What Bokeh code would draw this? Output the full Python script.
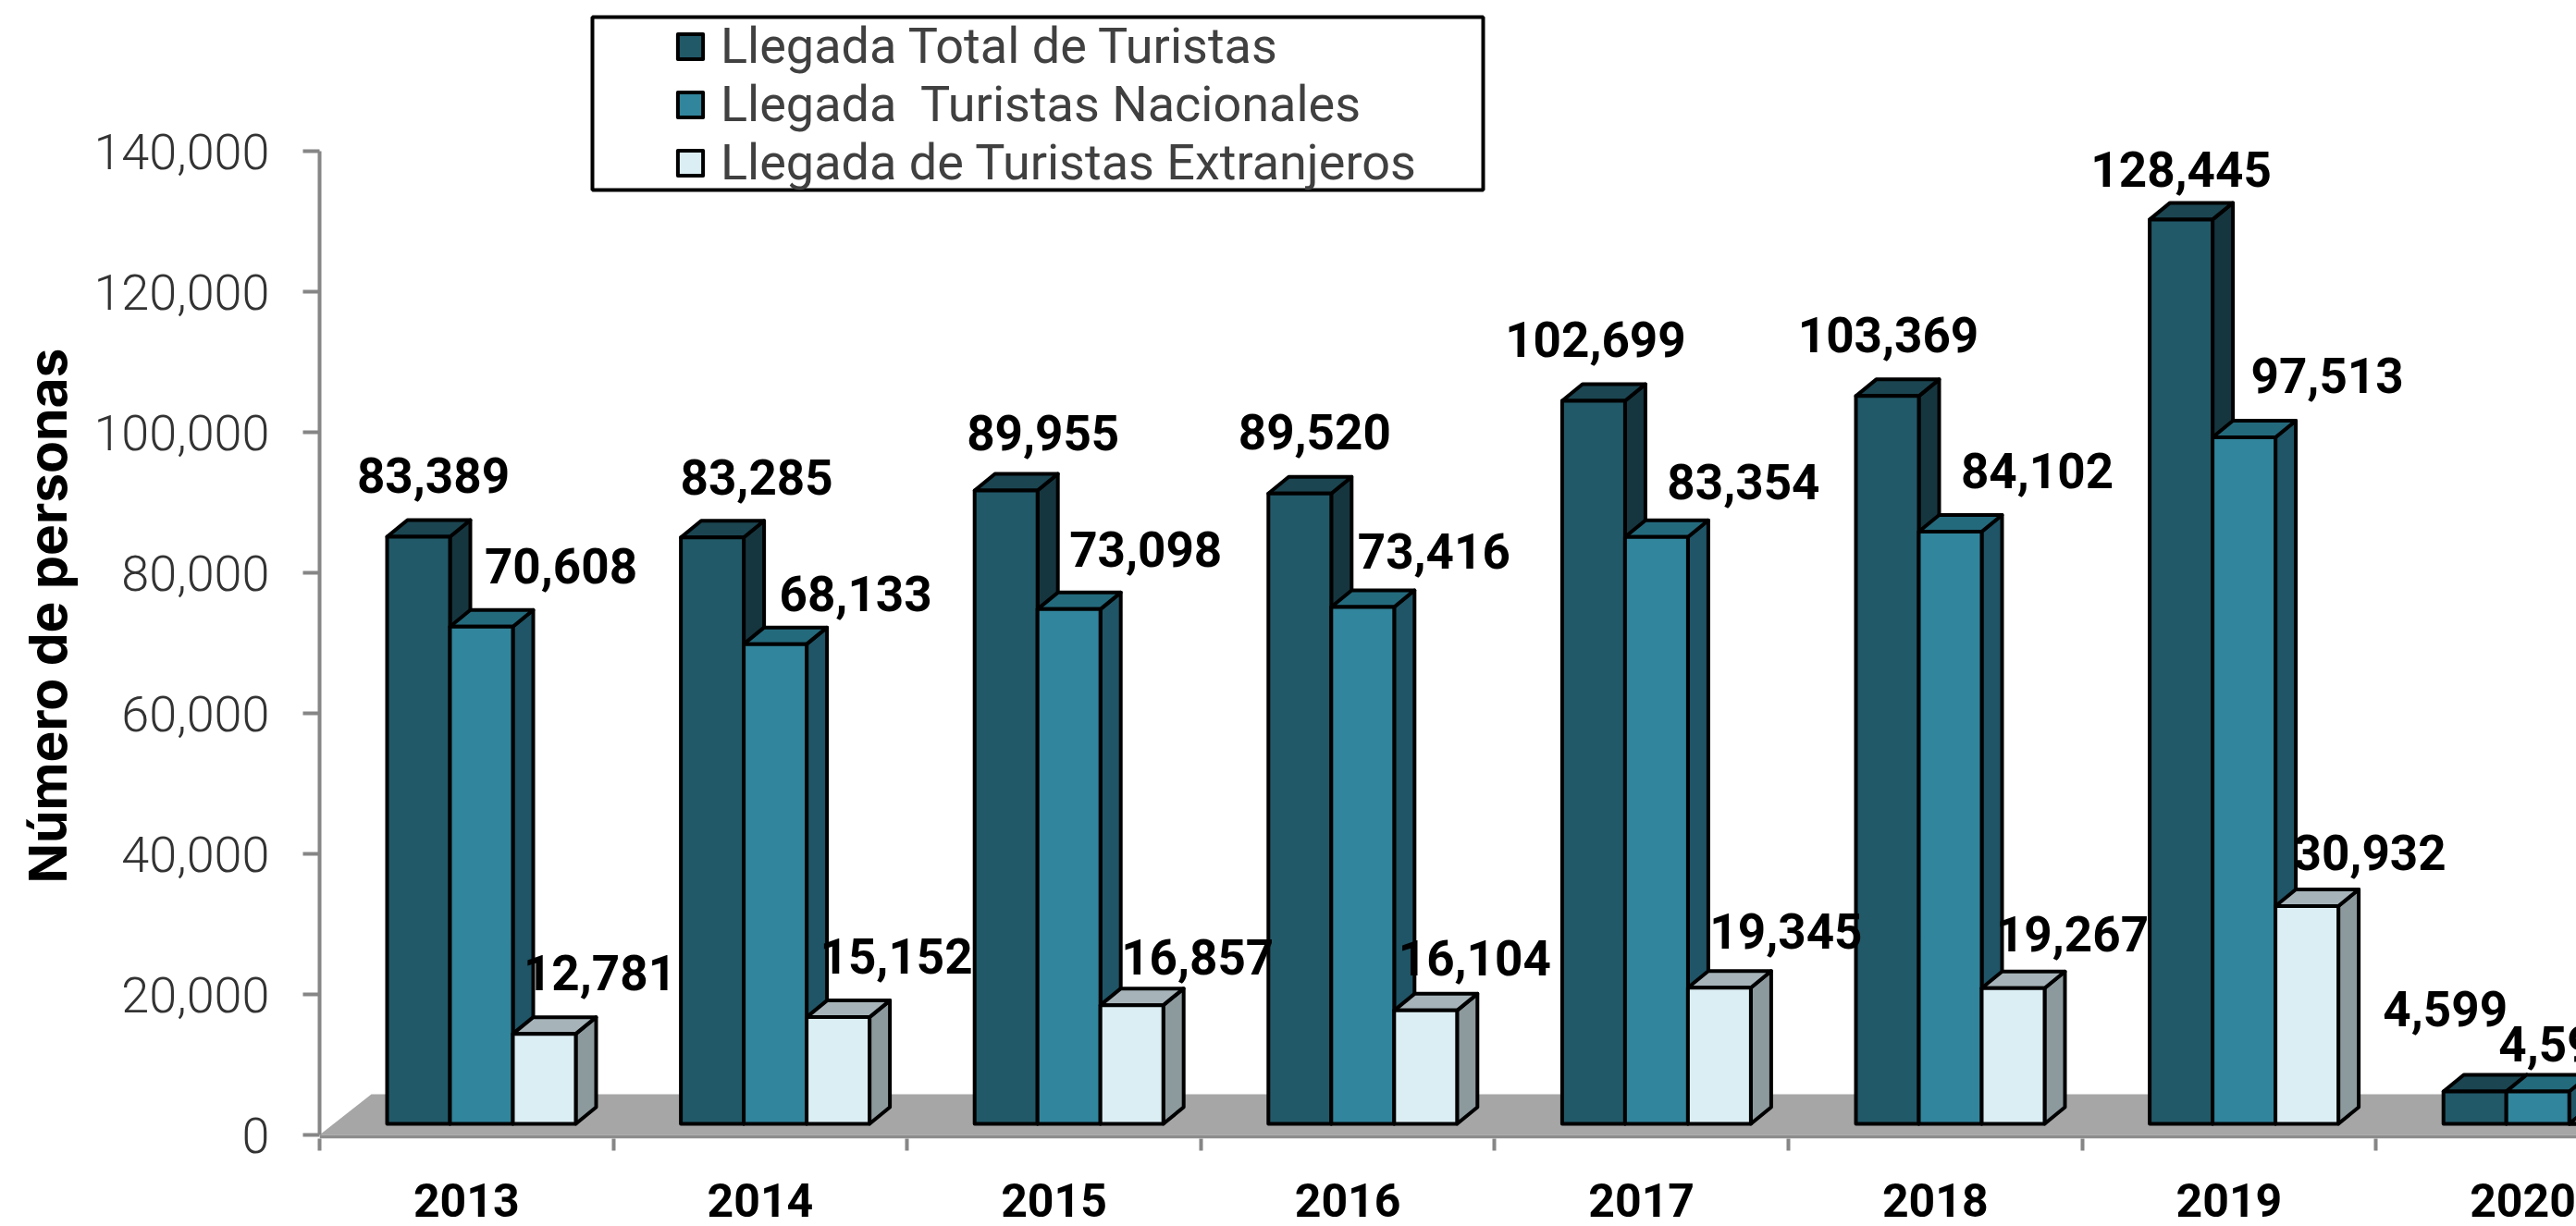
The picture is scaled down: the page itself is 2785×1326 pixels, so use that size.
from bokeh.plotting import figure
from bokeh.embed import file_html
from bokeh.resources import INLINE
from bokeh.models import (ColumnDataSource, Range1d, LinearAxis, FixedTicker, Legend, LegendItem,
                          Title, BoxAnnotation, CustomJSTickFormatter)
from bokeh.core.properties import value

years = ["2013", "2014", "2015", "2016", "2017", "2018", "2019", "2020"]
total = [83389, 83285, 89955, 89520, 102699, 103369, 128445, 4599]
nacionales = [70608, 68133, 73098, 73416, 83354, 84102, 97513, 4599]
extranjeros = [12781, 15152, 16857, 16104, 19345, 19267, 30932, 0]
series_names = ["Llegada Total de Turistas", "Llegada  Turistas Nacionales", "Llegada de Turistas Extranjeros"]
y_ticks = [0, 20000, 40000, 60000, 80000, 100000, 120000, 140000]

# label offsets (px) relative to the top of each bar
off_total = ([16, 48, 40, 16, 2, 1, 0, -32], [-66, -65, -62, -67, -66, -66, -54, -89])
off_nac = ([86, 87, 83, 77, 94, 94, 90, 25], [-66, -55, -65, -60, -60, -66, -67, -51])
off_ext = ([60, 63, 71, 53, 72, 64, 68], [-66, -66, -52, -57, -61, -59, -58])

fronts = ["#215968", "#31859C", "#DBEEF4"]
tops = ["#1B4551", "#246A7D", "#A6B4B9"]
sides = ["#16363F", "#1F5566", "#8C999D"]

W, H = 2785, 1326
CAT = 317.6            # px per category
K = 0.007615           # px per person (bars)
K_AX = 0.0076          # px per person (axis)
LEFT = 345             # frame left in canvas px
BOTTOM = 1231          # frame bottom in canvas px
BASE = 1215            # bars' zero in canvas px
AXIS0 = 1227           # axis zero in canvas px

xr = Range1d(0, (W - LEFT) / CAT)
yr = Range1d(-(BOTTOM - BASE) / K, BASE / K)
p = figure(width=W, height=H, x_range=xr, y_range=yr, output_backend="svg", toolbar_location=None,
           x_axis_location=None, y_axis_location=None, min_border_left=LEFT, min_border_right=0,
           min_border_top=0, min_border_bottom=H - BOTTOM, outline_line_color=None,
           background_fill_color="white", border_fill_color="white")
p.grid.visible = False
p.extra_y_ranges["axis"] = Range1d(-(BOTTOM - AXIS0) / K_AX, AXIS0 / K_AX)

# floor
fdx, fdy = 56 / CAT, 44 / K_AX
p.patch([0, fdx, xr.end, xr.end], [0, fdy, fdy, 0], y_range_name="axis", fill_color="#A6A6A6", line_color=None)
p.quad(left=[0], right=[xr.end], bottom=[-4 / K_AX], top=[0], y_range_name="axis", fill_color="#8C8C8C", line_color=None)

BW = 68 / CAT
START = 73 / CAT
DX, DY = 22 / CAT, 18 / K
LW = 4
renderers = []
for s, vals in enumerate([total, nacionales, extranjeros]):
    xl = [i + START + s * BW for i in range(len(vals))]
    xr_ = [x + BW for x in xl]
    p.patches([[b, b + DX, b + DX, b] for b in xr_],
              [[0, DY, v + DY, v] for v in vals],
              fill_color=sides[s], line_color="black", line_width=LW, line_join="round")
    p.patches([[a, a + DX, b + DX, b] for a, b in zip(xl, xr_)],
              [[v, v + DY, v + DY, v] for v in vals],
              fill_color=tops[s], line_color="black", line_width=LW, line_join="round")
    src = ColumnDataSource(dict(x=[x + BW / 2 for x in xl], top=vals))
    r = p.vbar(x="x", top="top", bottom=0, width=BW, source=src, fill_color=fronts[s],
               line_color="black", line_width=LW, line_join="round")
    renderers.append(r)

# data labels
for s, (vals, off) in enumerate(zip([total, nacionales, extranjeros], [off_total, off_nac, off_ext])):
    n = len(off[0])
    src = ColumnDataSource(dict(x=[i + START + s * BW + BW / 2 for i in range(n)], y=vals[:n],
                                t=[f"{v:,}" for v in vals[:n]], dx=off[0], dy=off[1]))
    p.text(x="x", y="y", text="t", x_offset="dx", y_offset="dy", source=src, text_align="center",
           text_baseline="middle", text_font=value("Roboto"), text_font_style="bold",
           text_font_size="53px", text_color="black")

# axes
yax = LinearAxis(y_range_name="axis", ticker=FixedTicker(ticks=y_ticks), bounds=(0, 140000))
yax.formatter = CustomJSTickFormatter(code="return tick.toLocaleString('en-US')")
yax.axis_line_color = "#868686"; yax.axis_line_width = 4
yax.major_tick_line_color = "#868686"; yax.major_tick_line_width = 4
yax.major_tick_out = 18; yax.major_tick_in = 0
yax.minor_tick_line_color = None
yax.major_label_text_font = "Roboto Light"; yax.major_label_text_font_size = "54px"
yax.major_label_text_color = "#333333"; yax.major_label_standoff = 36
p.add_layout(yax, "left")

centers = [i + 0.5 for i in range(len(years))]
xax = LinearAxis(ticker=FixedTicker(ticks=centers, minor_ticks=list(range(len(years)))))
xax.major_label_overrides = {c: y for c, y in zip(centers, years)}
xax.axis_line_color = None
xax.major_tick_line_color = None
xax.major_tick_out = 0; xax.major_tick_in = 0
xax.minor_tick_line_color = "#868686"; xax.minor_tick_line_width = 4
xax.minor_tick_out = 13; xax.minor_tick_in = 0
xax.major_label_text_font = "Roboto"; xax.major_label_text_font_style = "bold"
xax.major_label_text_font_size = "50px"; xax.major_label_text_color = "black"
xax.major_label_standoff = 35
p.add_layout(xax, "below")

# axis title
p.add_layout(Title(text="Número de personas", align="left", offset=276, standoff=25,
                   text_font="Inter", text_font_style="bold", text_font_size="57px",
                   text_color="black"), "left")

# legend
px = lambda c: (c - LEFT) / CAT
py = lambda c: (BASE - c) / K
p.add_layout(BoxAnnotation(left=px(640), right=px(1603), top=py(18), bottom=py(205), fill_color=None,
                           line_color="black", line_alpha=1, line_width=4))
leg = Legend(items=[LegendItem(label=n, renderers=[r]) for n, r in zip(series_names, renderers)],
             location=(384, BOTTOM - 207), orientation="vertical", padding=12, margin=0, spacing=0,
             glyph_width=34, glyph_height=34, label_standoff=16, label_height=34,
             label_text_font="Roboto", label_text_font_size="54px", label_text_color="#404040",
             border_line_color=None, background_fill_alpha=0, click_policy="none")
p.add_layout(leg, "center")

open("out.html", "w").write(file_html(p, INLINE))
